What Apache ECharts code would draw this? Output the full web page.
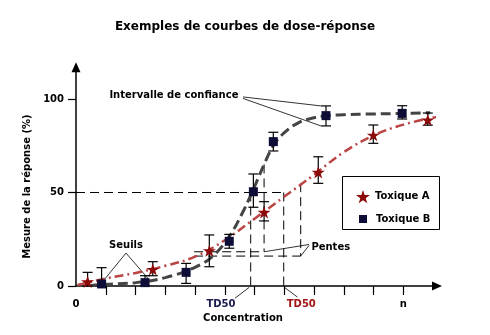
<!DOCTYPE html>
<html>
<head>
<meta charset="utf-8">
<script src="https://cdn.jsdelivr.net/npm/echarts@6/dist/echarts.min.js"></script>
<style>
  html, body { margin: 0; padding: 0; background: #fff; }
  #chart { width: 490px; height: 335px; }
</style>
</head>
<body>
<div id="chart"></div>
<script>
// Toxique A: measured points with confidence interval
const toxAX    = [0.39, 2.58, 4.48, 6.32, 8.14, 9.99, 11.82];
const toxAY    = [2.3, 8.9, 18.9, 39.4, 60.8, 80.7, 88.8];
const toxALow  = [0, 5.5, 10.3, 34.8, 54.9, 76.3, 86.0];
const toxAHigh = [7.3, 13.0, 27.3, 45.1, 69.1, 86.1, 92.5];

// Toxique B: measured points with confidence interval
const toxBX    = [0.86, 2.32, 3.70, 5.15, 5.96, 6.63, 8.40, 10.96];
const toxBY    = [1.1, 1.8, 7.3, 23.9, 50.4, 77.2, 91.1, 92.3];
const toxBLow  = [0, 0.3, 1.4, 20.2, 42.1, 72.2, 85.6, 89.3];
const toxBHigh = [9.8, 5.5, 12.1, 27.6, 59.9, 82.2, 96.3, 96.4];

// Fitted dose-response curves
const curveAX = [0.05, 1.0, 2.0, 3.0, 4.0, 5.0, 6.0, 7.0, 8.0, 9.0, 10.0, 11.0, 12.1];
const curveAY = [0.5, 4.0, 7.0, 10.8, 15.7, 24.5, 36.0, 47.8, 59.5, 71.6, 80.5, 86.3, 90.3];
const curveBX = [0.4, 1.0, 2.0, 3.0, 4.0, 4.6, 5.17, 5.62, 5.87, 6.05, 6.32, 6.63, 7.0, 7.5, 8.0, 8.4, 9.0, 10.0, 11.0, 11.9];
const curveBY = [0.2, 0.9, 1.8, 4.5, 10.0, 16.0, 27.0, 40.0, 48.5, 55.0, 65.0, 75.0, 82.0, 87.5, 90.0, 91.0, 91.6, 92.0, 92.3, 92.7];

// TD50 and slope construction lines [x1, y1, x2, y2]
const guideSegments = [
  [0, 50, 6.98, 50],
  [5.87, 50, 5.87, 0],
  [6.98, 50, 6.98, 0],
  [6.32, 65, 6.32, 18.3],
  [3.97, 18.3, 6.32, 18.3],
  [7.55, 55, 7.55, 16],
  [3.97, 16, 7.55, 16]
];

// Annotation leader lines [x1, y1, x2, y2]
const leaderSegments = [
  [5.61, 101.1, 8.23, 96.3],
  [5.61, 100.3, 8.23, 85.6],
  [1.68, 17.6, 0.93, 3.0],
  [1.68, 17.6, 2.45, 3.5],
  [6.32, 18.3, 7.83, 22.2],
  [7.55, 16.0, 7.83, 21.7],
  [5.82, -0.7, 5.34, -6.6],
  [7.0, -0.7, 7.44, -5.9]
];

// Annotation texts and their anchors
const noteText = ['Intervalle de confiance', 'Seuils', 'Pentes'];
const noteX = [3.29, 1.68, 8.56];
const noteY = [101.9, 21.9, 20.9];

// Axis labels
const xTickValues = [1, 2, 3, 4, 5, 6, 7, 8, 9, 10, 11];
const xLabelPos = [0, 4.87, 7.57, 11];
const xLabelText = ['0', 'TD50', 'TD50', 'n'];
const xLabelStyle = ['k', 'b', 'r', 'k'];
const yTickValues = [0, 50, 100];

const FONT = 'DejaVu Sans';
const RED = '#8c0a0a';
const NAVY = '#0c0c36';
const STAR = 'path://M10,0 L12.245,6.91 L19.511,6.91 L13.633,11.18 L15.878,18.09 L10,13.82 L4.122,18.09 L6.367,11.18 L0.489,6.91 L7.755,6.91 Z';

const zip = (xs, ys) => xs.map((x, i) => [x, ys[i]]);

function segmentSeries(name, data, style, z) {
  return {
    type: 'custom', name, z, silent: true, clip: false,
    data,
    renderItem(params, api) {
      const a = api.coord([api.value(0), api.value(1)]);
      const b = api.coord([api.value(2), api.value(3)]);
      return {
        type: 'line',
        shape: { x1: a[0], y1: a[1], x2: b[0], y2: b[1] },
        style: Object.assign({ fill: null }, style)
      };
    }
  };
}

function errorBarSeries(name, xs, lows, highs) {
  return {
    type: 'custom', name: name + ' IC', z: 3, silent: true, clip: false,
    data: xs.map((x, i) => [x, lows[i], highs[i]]),
    renderItem(params, api) {
      const lo = api.coord([api.value(0), api.value(1)]);
      const hi = api.coord([api.value(0), api.value(2)]);
      const hw = 5;
      const st = { stroke: '#000', lineWidth: 1.2, fill: null };
      return {
        type: 'group',
        children: [
          { type: 'line', shape: { x1: lo[0], y1: lo[1], x2: hi[0], y2: hi[1] }, style: st },
          { type: 'line', shape: { x1: hi[0] - hw, y1: hi[1], x2: hi[0] + hw, y2: hi[1] }, style: st },
          { type: 'line', shape: { x1: lo[0] - hw, y1: lo[1], x2: lo[0] + hw, y2: lo[1] }, style: st }
        ]
      };
    }
  };
}

// Free-standing annotation texts placed in data coordinates
function noteSeries() {
  return {
    type: 'custom', name: 'notes', z: 6, silent: true, clip: false,
    data: noteX.map((x, i) => [x, noteY[i], i]),
    renderItem(params, api) {
      const p = api.coord([api.value(0), api.value(1)]);
      return {
        type: 'text',
        x: p[0], y: p[1],
        style: {
          text: noteText[api.value(2)],
          fill: '#000',
          font: 'bold 10px "' + FONT + '"',
          align: 'center', verticalAlign: 'middle'
        }
      };
    }
  };
}

const chart = echarts.init(document.getElementById('chart'), null, { renderer: 'canvas' });

chart.setOption({
  animation: false,
  backgroundColor: '#fff',
  textStyle: { fontFamily: FONT },
  title: {
    text: 'Exemples de courbes de dose-réponse',
    left: 'center', top: 16,
    textStyle: { fontFamily: FONT, fontWeight: 'bold', fontSize: 12, color: '#000' }
  },
  grid: { left: 76, right: 53, top: 67.2, bottom: 49, outerBoundsMode: 'none', containLabel: false },
  xAxis: {
    type: 'value', min: 0, max: 12.13,
    name: 'Concentration', nameLocation: 'middle', nameGap: 26,
    nameTextStyle: { fontFamily: FONT, fontWeight: 'bold', fontSize: 10, color: '#000', padding: [0, 27, 0, 0] },
    axisLine: { show: true, symbol: ['none', 'triangle'], symbolSize: [9, 10], lineStyle: { color: '#000', width: 1.5 } },
    axisTick: { show: true, inside: false, length: 9, customValues: xTickValues, lineStyle: { color: '#000', width: 1.2 } },
    axisLabel: {
      customValues: xLabelPos, margin: 13,
      formatter: (v) => {
        const i = xLabelPos.indexOf(v);
        return i < 0 ? '' : '{' + xLabelStyle[i] + '|' + xLabelText[i] + '}';
      },
      rich: {
        k: { fontFamily: FONT, fontWeight: 'bold', fontSize: 10, color: '#000' },
        b: { fontFamily: FONT, fontWeight: 'bold', fontSize: 10, color: '#1a1a4e' },
        r: { fontFamily: FONT, fontWeight: 'bold', fontSize: 10, color: '#a01414' }
      }
    },
    splitLine: { show: false }
  },
  yAxis: {
    type: 'value', min: 0, max: 117,
    name: 'Mesure de la réponse (%)', nameLocation: 'middle', nameGap: 35, nameRotate: 90,
    nameTextStyle: { fontFamily: FONT, fontWeight: 'bold', fontSize: 10, color: '#000', padding: [0, 20, 0, 0] },
    axisLine: { show: true, symbol: ['none', 'triangle'], symbolSize: [9, 10], lineStyle: { color: '#000', width: 1.5 } },
    axisTick: { show: true, inside: false, length: 8, customValues: yTickValues, lineStyle: { color: '#000', width: 1.2 } },
    axisLabel: {
      customValues: yTickValues, margin: 12,
      fontFamily: FONT, fontWeight: 'bold', fontSize: 10, color: '#000'
    },
    splitLine: { show: false }
  },
  legend: [
    {
      data: [{ name: 'Toxique A', icon: STAR }],
      left: 351, top: 185, itemWidth: 14, itemHeight: 14, selectedMode: false,
      textStyle: { fontFamily: FONT, fontWeight: 'bold', fontSize: 10, color: '#000' }
    },
    {
      data: [{ name: 'Toxique B', icon: 'rect' }],
      left: 354, top: 209, itemWidth: 8, itemHeight: 8, selectedMode: false,
      textStyle: { fontFamily: FONT, fontWeight: 'bold', fontSize: 10, color: '#000', padding: [0, 0, 0, 4] }
    }
  ],
  graphic: [{
    type: 'rect', z: -1, silent: true,
    shape: { x: 342.5, y: 176.5, width: 97, height: 53 },
    style: { fill: '#fff', stroke: '#000', lineWidth: 1 }
  }],
  series: [
    segmentSeries('guides', guideSegments, { stroke: '#000', lineWidth: 1, lineDash: [9, 5] }, 1),
    segmentSeries('leaders', leaderSegments, { stroke: '#000', lineWidth: 0.8 }, 1),
    {
      type: 'line', name: 'Courbe A', z: 2, silent: true, smooth: 0.4,
      showSymbol: false, symbol: 'none', clip: false,
      data: zip(curveAX, curveAY),
      lineStyle: { color: '#bb4444', width: 2.5, type: [9, 4, 2, 4] }
    },
    {
      type: 'line', name: 'Courbe B', z: 2, silent: true, smooth: 0.4,
      showSymbol: false, symbol: 'none', clip: false,
      data: zip(curveBX, curveBY),
      lineStyle: { color: '#444444', width: 3, type: [10, 5] }
    },
    errorBarSeries('Toxique A', toxAX, toxALow, toxAHigh),
    errorBarSeries('Toxique B', toxBX, toxBLow, toxBHigh),
    {
      type: 'scatter', name: 'Toxique A', z: 5, symbol: STAR, symbolSize: 13, symbolKeepAspect: true,
      data: zip(toxAX, toxAY),
      itemStyle: { color: RED, opacity: 1 }
    },
    {
      type: 'scatter', name: 'Toxique B', z: 5, symbol: 'rect', symbolSize: 9,
      data: zip(toxBX, toxBY),
      itemStyle: { color: NAVY, opacity: 1 }
    },
    noteSeries()
  ]
});
</script>
</body>
</html>
